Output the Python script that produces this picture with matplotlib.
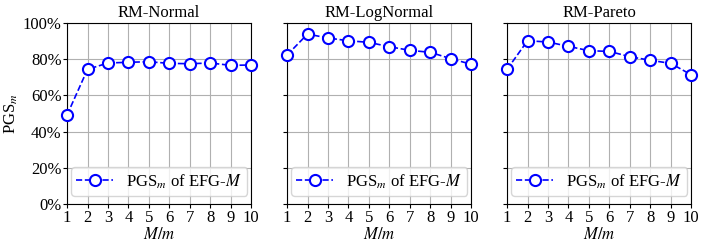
import numpy as np
import matplotlib
matplotlib.use("Agg")
import matplotlib.pyplot as plt
from matplotlib.ticker import PercentFormatter

plt.rcParams["font.family"] = "Liberation Serif"
plt.rcParams["mathtext.fontset"] = "stix"

ratio = np.arange(1, 11)
titles = ["RM-Normal", "RM-LogNormal", "RM-Pareto"]
pgs_normal = [49.2, 74.4, 77.9, 78.3, 78.6, 77.7, 77.5, 77.9, 76.6, 76.8]
pgs_lognormal = [82.3, 93.9, 91.7, 90.2, 89.3, 86.9, 84.9, 83.8, 80.3, 77.2]
pgs_pareto = [74.4, 90.2, 89.5, 87.1, 84.7, 84.3, 81.4, 79.4, 77.7, 71.4]
series = [pgs_normal, pgs_lognormal, pgs_pareto]

fig, axes = plt.subplots(1, 3, figsize=(7.06, 2.5), dpi=100, sharey=True)
fig.subplots_adjust(left=0.095, right=0.979, top=0.908, bottom=0.184, wspace=0.195)

for ax, title, vals in zip(axes, titles, series):
    ax.plot(ratio, vals, "--o", color="blue", markerfacecolor="white",
            markersize=8, markeredgewidth=1.5, linewidth=1.2, clip_on=False, zorder=3,
            label=r"PGS$_m$ of EFG-$M$")
    ax.set_title(title, fontsize=12, pad=4)
    ax.set_xlim(1, 10)
    ax.set_ylim(0, 100)
    ax.set_xticks(ratio)
    ax.set_yticks(np.arange(0, 101, 20))
    ax.yaxis.set_major_formatter(PercentFormatter(decimals=0))
    ax.tick_params(labelsize=12, length=3, pad=1)
    ax.grid(True, color="#b0b0b0", linewidth=0.8)
    ax.set_xlabel(r"$M/m$", fontsize=12, labelpad=1)
    ax.legend(loc="lower center", fontsize=12, handlelength=2.2,
              borderpad=0.3, handletextpad=0.8)

axes[0].set_ylabel(r"PGS$_m$", fontsize=12, labelpad=2)

fig.savefig("out.png", dpi=100)
